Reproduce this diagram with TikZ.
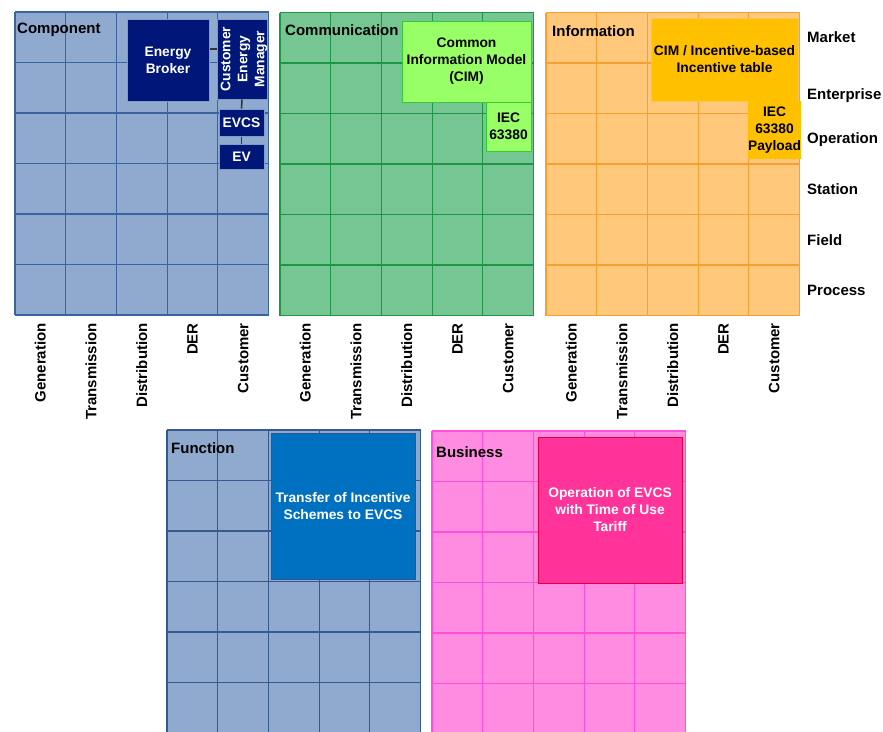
\documentclass[tikz,border=0pt]{standalone}
\usepackage{fontspec}
\setmainfont{Liberation Sans}
\definecolor{bfill}{HTML}{8FA9CF}
\definecolor{bline}{HTML}{3A64A0}
\definecolor{gfill}{HTML}{75C692}
\definecolor{gline}{HTML}{1E9646}
\definecolor{ofill}{HTML}{FFC87A}
\definecolor{oline}{HTML}{F5A030}
\definecolor{pfill}{HTML}{FF8CE0}
\definecolor{pline}{HTML}{FF4FD8}
\definecolor{navy}{HTML}{00177A}
\definecolor{navyedge}{HTML}{7F9BC8}
\definecolor{lgreen}{HTML}{99FF66}
\definecolor{lgreenedge}{HTML}{33CC33}
\definecolor{gold}{HTML}{FFC000}
\definecolor{goldedge}{HTML}{F7C65A}
\definecolor{fblue}{HTML}{0070C0}
\definecolor{fblueedge}{HTML}{2F5597}
\definecolor{hpink}{HTML}{FF3399}
\definecolor{hpinkedge}{HTML}{DD0044}
\newcommand\mypanel[4]{%
  \fill[#3] (#1,#2) rectangle ++(253.5,303);
  \foreach \i in {0,...,5} \draw[#4, line width=1.1pt] ({#1+\i*50.7},#2) -- ++(0,303);
  \foreach \j in {0,...,6} \draw[#4, line width=1.1pt] (#1,{#2+\j*50.5}) -- ++(253.5,0);
}
\begin{document}
\begin{tikzpicture}[x=1pt,y=-1pt,
  box/.style={draw, line width=1pt, inner sep=0pt, align=center, font=\fontsize{13.8}{17}\selectfont\bfseries},
  lbl/.style={font=\fontsize{15}{17}\selectfont\bfseries, inner sep=0pt},
  conn/.style={draw=black!80, line width=1.6pt}
]
\useasboundingbox (0,0) rectangle (883,731);
\clip (0,0) rectangle (883,731);
% panels
\mypanel{15}{12}{bfill}{bline}
\mypanel{280}{12.5}{gfill}{gline}
\mypanel{546}{12.5}{ofill}{oline}
\mypanel{167}{430}{bfill}{bline!90!black}
\mypanel{432}{431}{pfill}{pline}
% panel titles
\node[lbl, anchor=base west] (tcomp) at (17,33.5) {Component};
\node[lbl, anchor=base west] (tcomm) at (285,35.3) {Communication};
\node[lbl, anchor=base west] (tinfo) at (552,36) {Information};
\node[lbl, anchor=base west] (tfunc) at (171,453.3) {Function};
\node[lbl, anchor=base west] (tbus) at (436,457.3) {Business};
% zone labels
\foreach \t/\yy [count=\k] in {Market/37,Enterprise/94,Operation/138.5,Station/189,Field/240,Process/290}
  \node[lbl, anchor=base west] (zone\k) at (807,{\yy+5.3}) {\t};
% domain labels
\foreach \xo/\p in {15/a,280/b,546/c}{
  \foreach \t [count=\k] in {Generation,Transmission,Distribution,DER,Customer}
    \node[lbl, rotate=90, anchor=east] (dom\p\k) at ({\xo+25.35+(\k-1)*50.7},323) {\t};
}
% component boxes
\node[box, fill=navy, draw=navyedge, text=white, minimum width=82, minimum height=82] (broker) at (168,60) {Energy\\Broker};
\node[box, fill=navy, draw=navyedge, minimum width=50, minimum height=80] (cem) at (242,59) {};
\node[box, text=white, draw=none, rotate=90] (cemt) at ([xshift=2pt]cem.center) {Customer\\Energy\\Manager};
\node[box, fill=navy, draw=navyedge, text=white, minimum width=45, minimum height=27] (evcs) at (241.5,122.5) {EVCS};
\node[box, fill=navy, draw=navyedge, text=white, minimum width=45, minimum height=25] (ev) at (241.5,156.5) {EV};
\draw[conn] ([yshift=11pt]broker.east) -- ([yshift=11pt]broker.east -| cem.west);
\draw[conn] (cem.south) -- (evcs.north);
\draw[conn] (evcs.south) -- (ev.north);
% communication boxes
\node[box, fill=lgreen, draw=lgreenedge, minimum width=129, minimum height=81] (cim) at (466.5,61.5) {Common\\Information Model\\(CIM)};
\node[box, fill=lgreen, draw=lgreenedge, minimum width=45, minimum height=49] (iec) at (508.5,126.5) {IEC\\63380};
% information boxes
\node[box, fill=gold, draw=goldedge, minimum width=147, minimum height=83] (cimi) at (724.5,59.5) {CIM / Incentive-based\\Incentive table};
\node[box, fill=gold, draw=none, minimum width=51, minimum height=58] (iecp) at (774.5,130) {IEC\\63380\\Payload};
% function box
\node[box, fill=fblue, draw=fblueedge, text=white, minimum width=144, minimum height=146] (func) at (343,506) {Transfer of Incentive\\Schemes to EVCS};
% business box
\node[box, fill=hpink, draw=hpinkedge, text=white, minimum width=144, minimum height=146] (bus) at (610,510) {Operation of EVCS\\with Time of Use\\Tariff};
\end{tikzpicture}
\end{document}
